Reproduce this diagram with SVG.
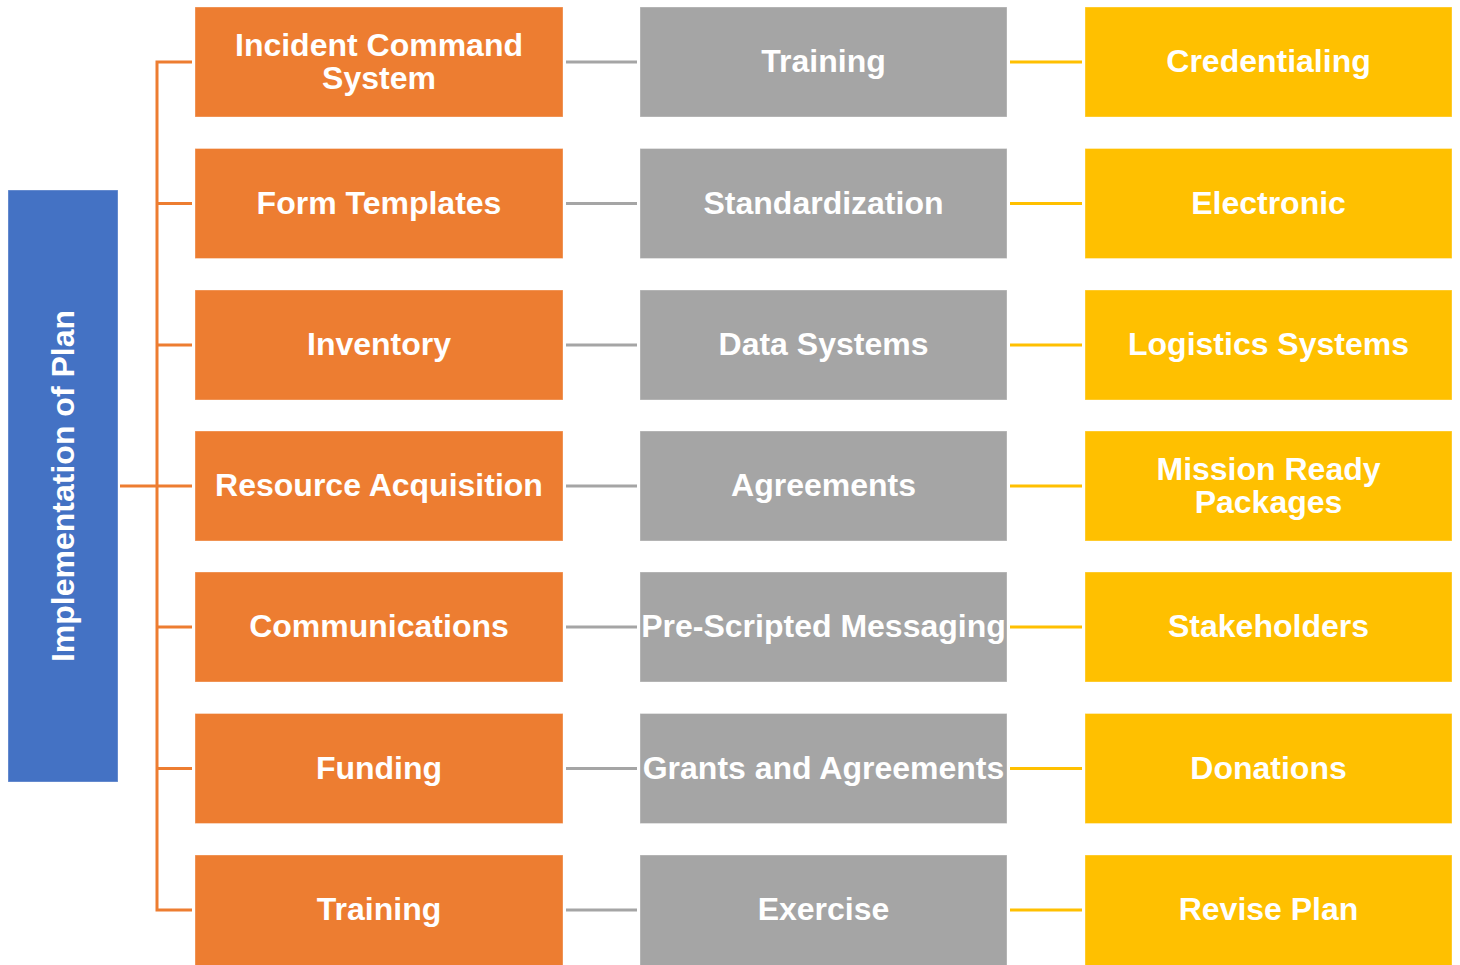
<svg xmlns="http://www.w3.org/2000/svg" width="1460" height="965" viewBox="0 0 1460 965">
  <style>
    .box { stroke: #ffffff; stroke-opacity: 0.35; stroke-width: 1; }
    .o { fill: #ED7D31; }
    .g { fill: #A5A5A5; }
    .y { fill: #FFC000; }
    .b { fill: #4472C4; }
    .t { font-family: "Liberation Sans", Arial, sans-serif; font-weight: bold; font-size: 32px; fill: #ffffff; text-anchor: middle; }
    .lo { stroke: #ED7D31; stroke-width: 3; fill: none; }
    .lg { stroke: #A5A5A5; stroke-width: 3; fill: none; }
    .ly { stroke: #FFC000; stroke-width: 3; fill: none; }
  </style>
  <rect width="1460" height="965" fill="#ffffff"/>

  <g id="connectors">
    <path class="lo" d="M192 62 H157 V910 H192"/>
    <path class="lo" d="M157 203.5 H192 M157 345 H192 M120 486 H192 M157 627 H192 M157 768.5 H192"/>
    <path class="lg" d="M566 62 H637 M566 203.5 H637 M566 345 H637 M566 486 H637 M566 627 H637 M566 768.5 H637 M566 910 H637"/>
    <path class="ly" d="M1010 62 H1082 M1010 203.5 H1082 M1010 345 H1082 M1010 486 H1082 M1010 627 H1082 M1010 768.5 H1082 M1010 910 H1082"/>
  </g>

  <g id="root">
    <rect class="box b" x="8" y="190" width="110" height="592"/>
    <text class="t" transform="translate(74 486) rotate(-90)">Implementation of Plan</text>
  </g>

  <g id="ics"><rect class="box o" x="195" y="7" width="368" height="110"/>
    <text class="t" x="379" y="56">Incident Command</text><text class="t" x="379" y="89">System</text></g>
  <g id="form-templates"><rect class="box o" x="195" y="148.5" width="368" height="110"/>
    <text class="t" x="379" y="213.5">Form Templates</text></g>
  <g id="inventory"><rect class="box o" x="195" y="290" width="368" height="110"/>
    <text class="t" x="379" y="355">Inventory</text></g>
  <g id="resource-acquisition"><rect class="box o" x="195" y="431" width="368" height="110"/>
    <text class="t" x="379" y="496">Resource Acquisition</text></g>
  <g id="communications"><rect class="box o" x="195" y="572" width="368" height="110"/>
    <text class="t" x="379" y="637">Communications</text></g>
  <g id="funding"><rect class="box o" x="195" y="713.5" width="368" height="110"/>
    <text class="t" x="379" y="778.5">Funding</text></g>
  <g id="training-1"><rect class="box o" x="195" y="855" width="368" height="115"/>
    <text class="t" x="379" y="920">Training</text></g>

  <g id="training-2"><rect class="box g" x="640" y="7" width="367" height="110"/>
    <text class="t" x="823.5" y="72">Training</text></g>
  <g id="standardization"><rect class="box g" x="640" y="148.5" width="367" height="110"/>
    <text class="t" x="823.5" y="213.5">Standardization</text></g>
  <g id="data-systems"><rect class="box g" x="640" y="290" width="367" height="110"/>
    <text class="t" x="823.5" y="355">Data Systems</text></g>
  <g id="agreements"><rect class="box g" x="640" y="431" width="367" height="110"/>
    <text class="t" x="823.5" y="496">Agreements</text></g>
  <g id="pre-scripted-messaging"><rect class="box g" x="640" y="572" width="367" height="110"/>
    <text class="t" x="823.5" y="637">Pre-Scripted Messaging</text></g>
  <g id="grants-and-agreements"><rect class="box g" x="640" y="713.5" width="367" height="110"/>
    <text class="t" x="823.5" y="778.5">Grants and Agreements</text></g>
  <g id="exercise"><rect class="box g" x="640" y="855" width="367" height="115"/>
    <text class="t" x="823.5" y="920">Exercise</text></g>

  <g id="credentialing"><rect class="box y" x="1085" y="7" width="367" height="110"/>
    <text class="t" x="1268.5" y="72">Credentialing</text></g>
  <g id="electronic"><rect class="box y" x="1085" y="148.5" width="367" height="110"/>
    <text class="t" x="1268.5" y="213.5">Electronic</text></g>
  <g id="logistics-systems"><rect class="box y" x="1085" y="290" width="367" height="110"/>
    <text class="t" x="1268.5" y="355">Logistics Systems</text></g>
  <g id="mission-ready-packages"><rect class="box y" x="1085" y="431" width="367" height="110"/>
    <text class="t" x="1268.5" y="480">Mission Ready</text><text class="t" x="1268.5" y="513">Packages</text></g>
  <g id="stakeholders"><rect class="box y" x="1085" y="572" width="367" height="110"/>
    <text class="t" x="1268.5" y="637">Stakeholders</text></g>
  <g id="donations"><rect class="box y" x="1085" y="713.5" width="367" height="110"/>
    <text class="t" x="1268.5" y="778.5">Donations</text></g>
  <g id="revise-plan"><rect class="box y" x="1085" y="855" width="367" height="115"/>
    <text class="t" x="1268.5" y="920">Revise Plan</text></g>
</svg>
